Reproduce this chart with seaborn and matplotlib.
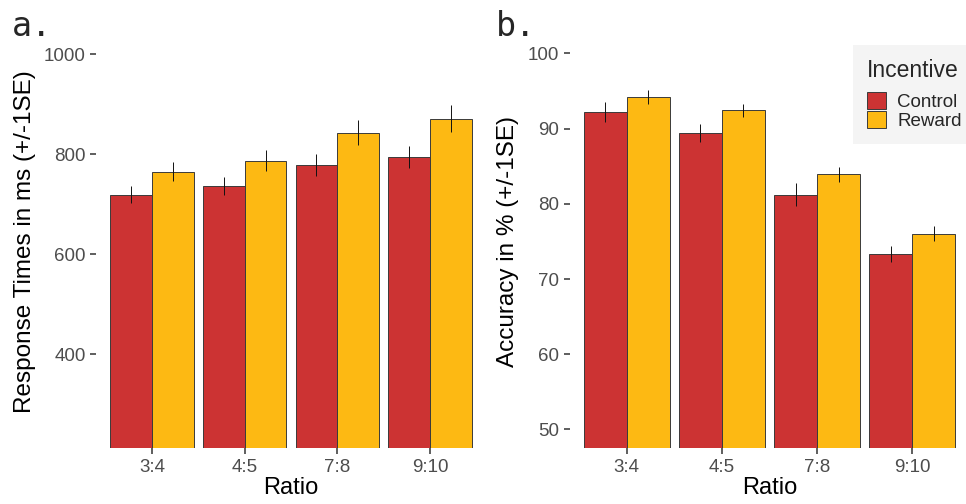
import matplotlib
matplotlib.use("Agg")
import matplotlib.pyplot as plt
import seaborn as sns
import pandas as pd
import numpy as np

# ---- data ----
ratios = ["3:4", "4:5", "7:8", "9:10"]
incentives = ["Control", "Reward"]
rt_control = [719, 737, 779, 795]
rt_reward = [765, 787, 843, 871]
rt_se_control = [17, 18, 22, 22]
rt_se_reward = [19, 21, 25, 27]
acc_control = [92.2, 89.4, 81.2, 73.3]
acc_reward = [94.2, 92.4, 83.9, 76.0]
acc_se_control = [1.35, 1.25, 1.5, 1.1]
acc_se_reward = [0.9, 0.8, 1.0, 1.0]

df = pd.DataFrame({
    "Ratio": ratios * 2,
    "Incentive": ["Control"] * 4 + ["Reward"] * 4,
    "rt": rt_control + rt_reward,
    "rt_se": rt_se_control + rt_se_reward,
    "acc": acc_control + acc_reward,
    "acc_se": acc_se_control + acc_se_reward,
})

palette = {"Control": "#CC3333", "Reward": "#FDB913"}

sns.set_theme(style="white")
plt.rcParams["font.family"] = ["Liberation Sans", "DejaVu Sans"]

fig = plt.figure(figsize=(9.66, 5.04), dpi=100)
W, H = 966, 504

def axes_px(left, right, top, bottom):
    return fig.add_axes([left / W, 1 - bottom / H, (right - left) / W, (bottom - top) / H])

ax_a = axes_px(96.4, 485.6, 35.25, 448.25)
ax_b = axes_px(569.6, 969.4, 34.5, 448.3)

def draw(ax, col, secol, ylim, yticks, ylabel):
    sns.barplot(data=df, x="Ratio", y=col, hue="Incentive", order=ratios,
                hue_order=incentives, palette=palette, width=0.9,
                errorbar=None, edgecolor="#3a3a3a", linewidth=0.7,
                saturation=1, ax=ax, legend=(ax is ax_b))
    for cont, inc in zip(ax.containers, incentives):
        sub = df[df["Incentive"] == inc].set_index("Ratio")
        for bar in cont:
            xc = bar.get_x() + bar.get_width() / 2
            idx = int(round(xc))
            r = ratios[idx]
            ax.errorbar(xc, sub.loc[r, col], yerr=sub.loc[r, secol],
                        fmt="none", ecolor="#111111", elinewidth=0.7,
                        capsize=0, zorder=5)
    ax.set_xlim(-0.6, 3.6)
    ax.set_ylim(*ylim)
    ax.set_yticks(yticks)
    ax.set_yticklabels([str(t) for t in yticks])
    for s in ax.spines.values():
        s.set_visible(False)
    ax.tick_params(axis="both", which="both", length=4.5, width=1.1,
                   color="#333333", labelcolor="#4D4D4D", labelsize=13.5,
                   pad=3, left=True, bottom=True)
    ax.set_xlabel("Ratio", fontsize=17, color="black", labelpad=1)
    ax.set_ylabel(ylabel, fontsize=17.5, color="black", labelpad=6)
    ax.set_facecolor("white")

draw(ax_a, "rt", "rt_se", (212.5, 1037.5), [400, 600, 800, 1000],
     "Response Times in ms (+/-1SE)")
draw(ax_b, "acc", "acc_se", (47.5, 102.5), [50, 60, 70, 80, 90, 100],
     "Accuracy in % (+/-1SE)")

# legend
handles, labels = ax_b.get_legend_handles_labels()
ax_b.get_legend().remove()
leg = fig.legend(handles, labels, title="Incentive", loc="upper left",
                 bbox_to_anchor=(853 / W, 1 - 45 / H), borderaxespad=0,
                 frameon=True, facecolor="#F2F2F2", edgecolor="none",
                 fancybox=False, fontsize=13.5, title_fontsize=16.5,
                 handlelength=1.0, handleheight=1.05, labelspacing=0.0,
                 handletextpad=0.6, borderpad=0.75, alignment="left")
leg._legend_box.sep = 7
leg.get_frame().set_linewidth(0)
for h in leg.legend_handles:
    h.set_edgecolor("#3a3a3a")
    h.set_linewidth(0.7)

fig.text(12 / W, 1 - 36 / H, "a.", fontsize=24, family="DejaVu Sans Mono",
         va="baseline", ha="left")
fig.text(496 / W, 1 - 36 / H, "b.", fontsize=24, family="DejaVu Sans Mono",
         va="baseline", ha="left")

fig.savefig("out.png", dpi=100)
